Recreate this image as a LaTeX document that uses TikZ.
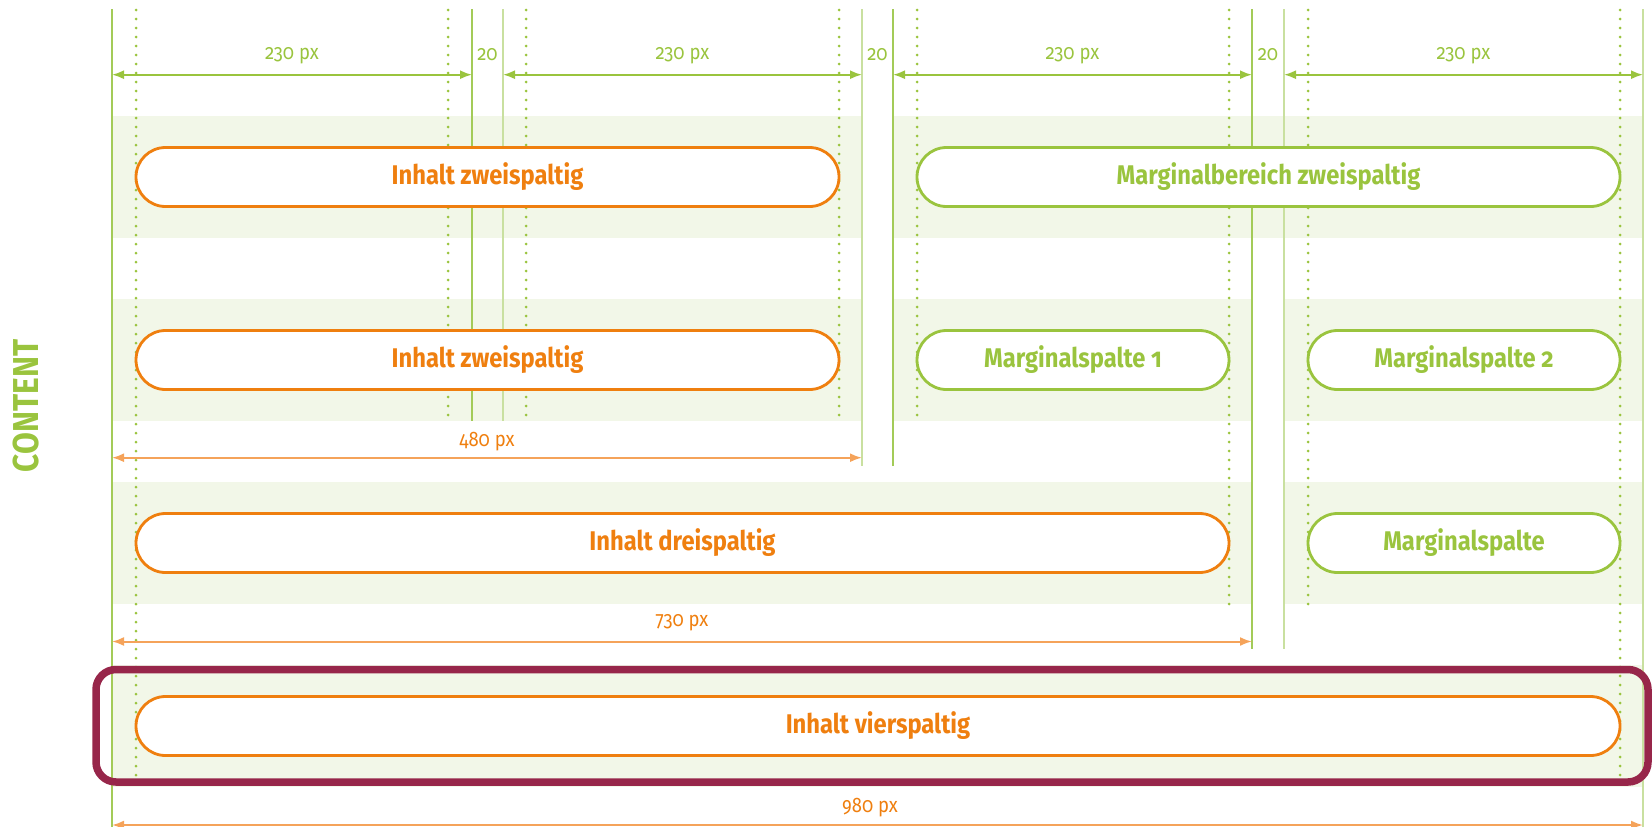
\documentclass[tikz,border=0pt]{standalone}
\usepackage{fontspec}
\setmainfont{Fira Sans}[Numbers=OldStyle]
\newfontfamily\narrowfont{Fira Sans}[Numbers=OldStyle, FakeStretch=0.88]
\usetikzlibrary{arrows.meta}
\definecolor{lgreen}{HTML}{9AC43E}
\definecolor{dgreenline}{HTML}{A3CB58}
\definecolor{lgreenline}{HTML}{C9E0A0}
\definecolor{bandc}{HTML}{F2F7E8}
\definecolor{orng}{HTML}{EF7F0F}
\definecolor{lorng}{HTML}{F5A35A}
\definecolor{purp}{HTML}{97264A}
\tikzset{
  band/.style={fill=bandc, draw=none},
  sline/.style={line width=2pt, draw=dgreenline},
  sline2/.style={line width=2pt, draw=lgreenline},
  dotline/.style={draw=lgreen, line width=3pt, line cap=round, dash pattern=on 0pt off 9pt},
  pill/.style={draw, fill=white, line width=2.8pt, rounded corners=29.5pt, minimum height=59pt, inner sep=0pt,
    font=\narrowfont\bfseries\fontsize{27}{27}\selectfont},
  opill/.style={pill, draw=orng, text=orng},
  gpill/.style={pill, draw=lgreen, text=lgreen},
  dimg/.style={draw=lgreen, line width=1.8pt, {Latex[length=12pt,width=9pt]}-{Latex[length=12pt,width=9pt]}},
  dimo/.style={draw=lorng, line width=2pt, {Latex[length=12pt,width=9pt]}-{Latex[length=12pt,width=9pt]}},
  glab/.style={text=lgreen, inner sep=0pt, font=\narrowfont\fontsize{21}{21}\selectfont},
  olab/.style={text=orng, inner sep=0pt, font=\narrowfont\fontsize{21}{21}\selectfont},
}
\begin{document}
\begin{tikzpicture}[x=1pt,y=-1pt]
\useasboundingbox (0,0) rectangle (1652,827);
% bands
\fill[band] (112,116) rectangle (862,238);
\fill[band] (893,116) rectangle (1643,238);
\fill[band] (112,299) rectangle (862,421);
\fill[band] (893,299) rectangle (1252,421);
\fill[band] (1284,299) rectangle (1643,421);
\fill[band] (112,482) rectangle (1252,604);
\fill[band] (1284,482) rectangle (1643,604);
\fill[band] (112,665) rectangle (1643,787);
% solid column lines
\draw[sline] (112,9) -- (112,827);
\draw[sline] (472,9) -- (472,421);
\draw[sline2] (503,9) -- (503,421);
\draw[sline2] (862,9) -- (862,466);
\draw[sline] (893,9) -- (893,466);
\draw[sline] (1252,9) -- (1252,649);
\draw[sline2] (1284,9) -- (1284,649);
\draw[sline2] (1643,9) -- (1643,827);
% dotted lines
\draw[dotline] (136,10) -- (136,787);
\draw[dotline] (448,10) -- (448,421);
\draw[dotline] (526,10) -- (526,421);
\draw[dotline] (839,10) -- (839,421);
\draw[dotline] (917,10) -- (917,421);
\draw[dotline] (1229,10) -- (1229,604);
\draw[dotline] (1308,10) -- (1308,604);
\draw[dotline] (1620,10) -- (1620,787);
% pills
\node[opill, minimum width=703pt] (r1a) at (487.5,177) {Inhalt zweispaltig};
\node[gpill, minimum width=703pt] (r1b) at (1268.5,177) {Marginalbereich zweispaltig};
\node[opill, minimum width=703pt] (r2a) at (487.5,360) {Inhalt zweispaltig};
\node[gpill, minimum width=312pt] (r2b) at (1073,360) {Marginalspalte 1};
\node[gpill, minimum width=312pt] (r2c) at (1464,360) {Marginalspalte 2};
\node[opill, minimum width=1093pt] (r3a) at (682.5,543) {Inhalt dreispaltig};
\node[gpill, minimum width=312pt] (r3b) at (1464,543) {Marginalspalte};
\node[opill, minimum width=1484pt] (r4a) at (878,726) {Inhalt vierspaltig};
% top dimensions
\coordinate (g0) at (112,74.7);
\coordinate (g1) at (472,74.7);
\coordinate (g2) at (503,74.7);
\coordinate (g3) at (862,74.7);
\coordinate (g4) at (893,74.7);
\coordinate (g5) at (1252,74.7);
\coordinate (g6) at (1284,74.7);
\coordinate (g7) at (1643,74.7);
\draw[dimg] (g0) -- (g1);
\draw[dimg] (g2) -- (g3);
\draw[dimg] (g4) -- (g5);
\draw[dimg] (g6) -- (g7);
\node[glab] (t1) at (292,56) {230 px};
\node[glab] (t2) at (682.5,56) {230 px};
\node[glab] (t3) at (1072.5,56) {230 px};
\node[glab] (t4) at (1463.5,56) {230 px};
\node[glab] (s1) at (487.5,55) {20};
\node[glab] (s2) at (877.5,55) {20};
\node[glab] (s3) at (1268,55) {20};
% orange dimensions
\coordinate (o1a) at (112,457.7);
\coordinate (o1b) at (862,457.7);
\coordinate (o2a) at (112,641.5);
\coordinate (o2b) at (1252,641.5);
\coordinate (o3a) at (112,825);
\coordinate (o3b) at (1643,825);
\draw[dimo] (o1a) -- (o1b);
\draw[dimo] (o2a) -- (o2b);
\draw[dimo] (o3a) -- (o3b);
\node[olab] (w1) at (487,442) {480 px};
\node[olab] (w2) at (682,623) {730 px};
\node[olab] (w3) at (870,807.5) {980 px};
% highlight frame
\draw[draw=purp, line width=7.5pt, rounded corners=20pt] (96,669.5) rectangle (1648,782);
% side label
\node[rotate=90, text=lgreen, inner sep=0pt, font=\narrowfont\bfseries\fontsize{36}{36}\selectfont] (content) at (26,406) {CONTENT};
\end{tikzpicture}
\end{document}
